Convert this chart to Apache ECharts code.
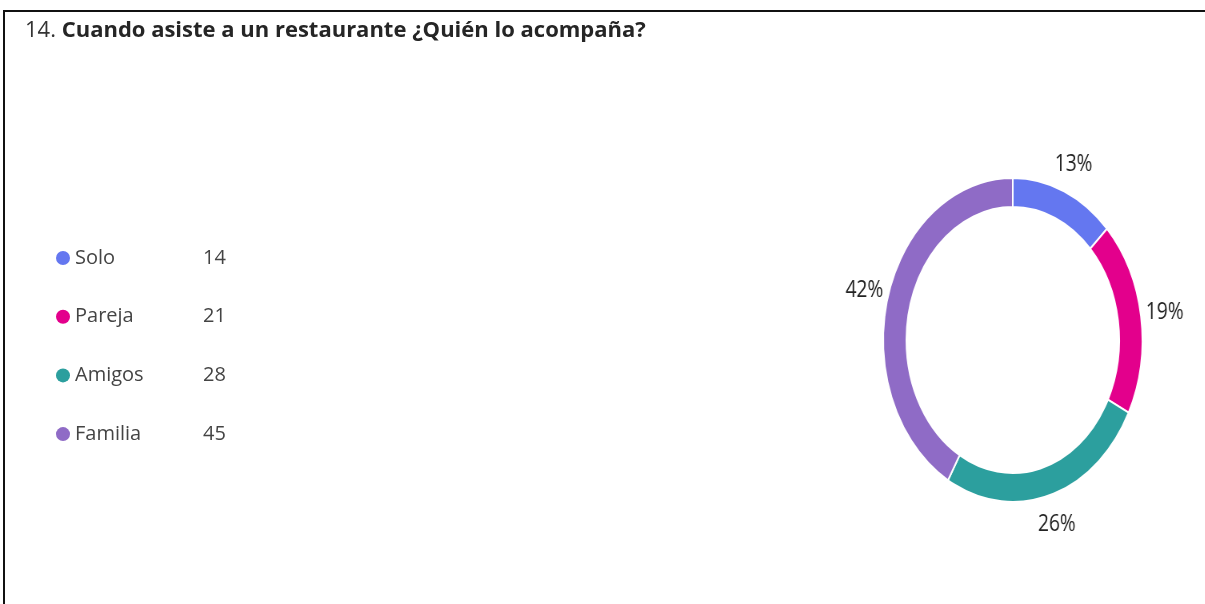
<!DOCTYPE html>
<html>
<head>
<meta charset="utf-8">
<script src="https://cdn.jsdelivr.net/npm/echarts@6/dist/echarts.min.js"></script>
<style>
  html, body { margin: 0; padding: 0; background: #fff; overflow: hidden; }
  #frame {
    position: absolute; left: 3px; top: 10px; width: 1202px; height: 594px;
    border-top: 2px solid #111; border-left: 2px solid #111;
  }
  #main { position: absolute; left: 0; top: 0; width: 1205px; height: 604px; }
  /* the donut in the screenshot is squeezed horizontally: draw it wide and scale down */
  #ring {
    position: absolute; left: 0; top: 0; width: 1506px; height: 604px;
    transform: scaleX(0.8); transform-origin: 0 0;
  }
</style>
</head>
<body>
<div id="frame"></div>
<div id="main"></div>
<div id="ring"></div>
<script>
var categories = ['Solo', 'Pareja', 'Amigos', 'Familia'];
var counts = [14, 21, 28, 45];
var colors = ['#6477F0', '#E3008C', '#2C9F9E', '#8F6BC6'];
var titleNum = '14. ';
var titleText = 'Cuando asiste a un restaurante ¿Quién lo acompaña?';

var font = '"Open Sans", "Noto Sans", sans-serif';

var pieData = categories.map(function (c, i) {
  return { name: c, value: counts[i], itemStyle: { color: colors[i] } };
});

// title + legend (normal proportions)
var mainChart = echarts.init(document.getElementById('main'));
mainChart.setOption({
  animation: false,
  title: {
    text: '{n|' + titleNum + '}{b|' + titleText + '}',
    left: 25,
    top: 20,
    padding: 0,
    textStyle: {
      rich: {
        n: { fontFamily: font, fontSize: 22, fontWeight: 'normal', color: '#333' },
        b: { fontFamily: font, fontSize: 22, fontWeight: 'bold', color: '#252525' }
      }
    }
  },
  legend: {
    orient: 'vertical',
    left: 51,
    top: 243,
    icon: 'circle',
    itemWidth: 14,
    itemHeight: 14,
    itemGap: 38.7,
    itemTextGap: 10,
    data: categories.map(function (c, i) {
      return { name: c, itemStyle: { color: colors[i] } };
    }),
    formatter: function (name) {
      var i = categories.indexOf(name);
      return '{n|' + name + '}{v|' + counts[i] + '}';
    },
    textStyle: {
      rich: {
        n: { width: 128, lineHeight: 20, fontFamily: font, fontSize: 20, color: '#444' },
        v: { lineHeight: 20, fontFamily: font, fontSize: 20, color: '#444' }
      }
    }
  },
  series: [
    {
      type: 'pie',
      radius: 0,
      silent: true,
      label: { show: false },
      labelLine: { show: false },
      itemStyle: { color: 'transparent' },
      data: pieData
    }
  ]
});

// the donut
var ringChart = echarts.init(document.getElementById('ring'));
ringChart.setOption({
  animation: false,
  series: [
    {
      name: 'ring',
      type: 'pie',
      center: [1266, 340],
      radius: [133, 162],
      startAngle: 90,
      clockwise: true,
      silent: true,
      itemStyle: { borderColor: '#fff', borderWidth: 2 },
      label: { show: false },
      labelLine: { show: false },
      data: pieData
    },
    {
      // transparent ring that only carries the percent labels
      name: 'labels',
      type: 'pie',
      center: [1266, 340],
      radius: [172, 206],
      startAngle: 90,
      clockwise: true,
      silent: true,
      itemStyle: { color: 'transparent' },
      label: {
        show: true,
        position: 'inside',
        fontFamily: font,
        fontSize: 24,
        color: '#222',
        formatter: function (p) { return Math.round(p.percent) + '%'; }
      },
      labelLine: { show: false },
      data: categories.map(function (c, i) { return { name: c, value: counts[i] }; })
    }
  ]
});
</script>
</body>
</html>
